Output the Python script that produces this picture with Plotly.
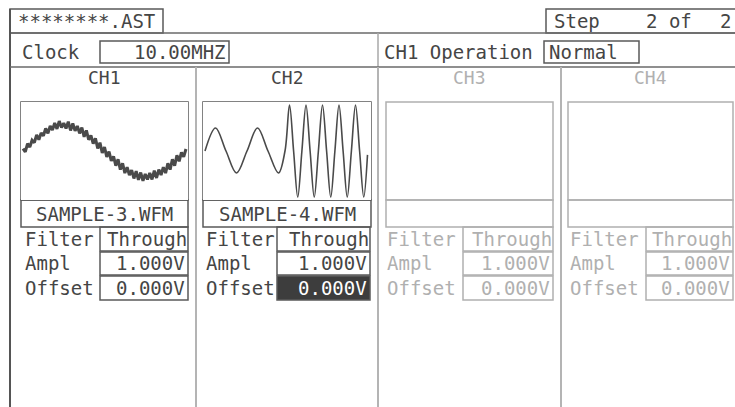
# waveform generator sequence screen, rebuilt with plotly shapes + two small wave plots
import plotly.graph_objects as go

W, H = 735, 407

# data
channels = ["CH1", "CH2", "CH3", "CH4"]
enabled = [True, True, False, False]
wave_names = ["SAMPLE-3.WFM", "SAMPLE-4.WFM", "", ""]
filter_vals = ["Through", "Through", "Through", "Through"]
ampl_vals = ["1.000V", "1.000V", "1.000V", "1.000V"]
offset_vals = ["0.000V", "0.000V", "0.000V", "0.000V"]

file_name = "********.AST"
clock_val = "10.00MHZ"
operation_val = "Normal"
step_now, step_total = 2, 2

# CH1: one noisy sine period (relative amplitude)
ch1_wave = [0.05, -0.02, 0.15, 0.08, 0.22, 0.17, 0.33, 0.23, 0.37, 0.31, 0.46, 0.36,
            0.51, 0.43, 0.57, 0.45, 0.61, 0.48, 0.57, 0.46, 0.60, 0.42, 0.56, 0.41,
            0.51, 0.36, 0.48, 0.29, 0.42, 0.23, 0.32, 0.15, 0.26, 0.05, 0.17, -0.04,
            0.08, -0.12, -0.01, -0.20, -0.11, -0.30, -0.17, -0.38, -0.25, -0.45, -0.33,
            -0.49, -0.39, -0.56, -0.41, -0.59, -0.44, -0.61, -0.47, -0.58, -0.45, -0.58,
            -0.40, -0.55, -0.38, -0.49, -0.33, -0.45, -0.25, -0.38, -0.17, -0.30, -0.09,
            -0.21, -0.03, -0.12, 0.04]

# CH2: two slow cycles then a fast burst (peaks / zero crossings / troughs)
ch2_t = [2, 12.5, 23, 33.5, 44, 54.5, 65, 75.5, 82, 86.5, 90.6, 94.75, 98.9, 103,
         107.1, 111.25, 115.4, 119.5, 123.6, 127.75, 131.9, 136, 140.1, 144.25,
         148.4, 152.5, 156.6, 160.75, 164.5]
ch2_v = [0, 0.47, 0, -0.45, 0, 0.47, 0, -0.45, 0, 0.94, 0, -0.94, 0, 0.94, 0, -0.94,
         0, 0.94, 0, -0.94, 0, 0.94, 0, -0.94, 0, 0.94, 0, -0.94, -0.08]

# screen geometry (pixels)
col_left = [10, 196, 378, 561]
wave_x0 = [21, 203, 386, 568]
wave_x1 = [188, 371, 553, 733]
text_x = [23, 204, 385, 568]
box_x0 = [100, 277, 463, 646]
box_x1 = [188, 370, 553, 733]

DARK = "#454545"
LINE = "#5a5a5a"
GREY = "#b0b0b0"
FONT = "DejaVu Sans Mono"

fig = go.Figure()

# wave plots on their own axes, placed inside the CH1 / CH2 boxes
def dom(x0, x1, y0, y1):
    return [x0 / W, x1 / W], [1 - y1 / H, 1 - y0 / H]

dx, dy = dom(wave_x0[0], wave_x1[0], 102, 200)
fig.add_trace(go.Scatter(x=list(range(len(ch1_wave))), y=ch1_wave, mode="lines",
                         line=dict(color="#4a4a4a", width=3), xaxis="x2", yaxis="y2",
                         hoverinfo="skip"))
fig.update_layout(xaxis2=dict(domain=dx, range=[-0.9, 72.9], visible=False, fixedrange=True),
                  yaxis2=dict(domain=dy, range=[-1, 1], visible=False, fixedrange=True))

dx, dy = dom(wave_x0[1], wave_x1[1], 102, 200)
fig.add_trace(go.Scatter(x=ch2_t, y=ch2_v, mode="lines",
                         line=dict(color="#4a4a4a", width=1.6, shape="spline"),
                         xaxis="x3", yaxis="y3", hoverinfo="skip"))
fig.update_layout(xaxis3=dict(domain=dx, range=[0, 168], visible=False, fixedrange=True),
                  yaxis3=dict(domain=dy, range=[-1, 1], visible=False, fixedrange=True))

shapes = []
def rect(x0, y0, x1, y1, color=LINE, width=1.5, fill=None):
    shapes.append(dict(type="rect", xref="x", yref="y", x0=x0, y0=y0, x1=x1, y1=y1,
                       line=dict(color=color, width=width),
                       fillcolor=fill if fill else "rgba(0,0,0,0)", layer="below"))

def line(x0, y0, x1, y1, color=LINE, width=1.5):
    shapes.append(dict(type="line", xref="x", yref="y", x0=x0, y0=y0, x1=x1, y1=y1,
                       line=dict(color=color, width=width)))

annots = []
def text(x, y, s, color=DARK, size=19, anchor="left"):
    annots.append(dict(x=x, y=y, xref="x", yref="y", text=s, showarrow=False,
                       xanchor=anchor, yanchor="middle",
                       font=dict(family=FONT, size=size, color=color)))

# header rows
rect(10, 9, 163, 33)
text(16, 21, file_name)
rect(546, 9, 737, 33)
text(552, 21, "Step")
text(694, 21, f"{step_now} of", anchor="right")
text(733, 21, str(step_total), anchor="right")
line(10, 33, 735, 33, color="#6a6a6a")
line(10, 9, 10, 407, color="#555555", width=2)

text(20, 52, "Clock")
rect(100, 41, 229, 63)
text(228, 52, clock_val, anchor="right")
line(378, 33, 378, 67, color="#a8a8a8", width=1.5)
text(382, 52, "CH1 Operation")
rect(544, 41, 639, 63)
text(547, 52, operation_val)
line(10, 67, 735, 67, color="#6a6a6a")

# column separators
for xl in col_left[1:]:
    line(xl, 67, xl, 407, color="#b4b4b4", width=2)

# channel columns
for i, ch in enumerate(channels):
    c = DARK if enabled[i] else GREY
    lc = LINE if enabled[i] else GREY
    cx = (wave_x0[i] + wave_x1[i]) / 2
    text(cx, 77, ch, color=c, size=18, anchor="center")
    rect(wave_x0[i], 102, wave_x1[i], 200, color=lc)
    rect(wave_x0[i], 200, wave_x1[i], 227, color=lc)
    if wave_names[i]:
        text(cx, 214, wave_names[i], color=c, anchor="center")

    text(text_x[i], 239, "Filter", color=c)
    rect(box_x0[i], 227, box_x1[i], 251, color=lc)
    text(box_x1[i] + 1, 239, filter_vals[i], color=c, anchor="right")

    text(text_x[i], 263, "Ampl", color=c)
    rect(box_x0[i], 252, box_x1[i], 275, color=lc)
    text(box_x1[i] - 1, 263, ampl_vals[i], color=c, anchor="right")

    text(text_x[i], 288, "Offset", color=c)
    sel = (i == 1)
    rect(box_x0[i], 276, box_x1[i], 300, color=lc, fill=("#3d3d3d" if sel else None))
    text(box_x1[i] - 1, 288, offset_vals[i], color=("white" if sel else c), anchor="right")

fig.update_layout(
    width=W, height=H,
    margin=dict(l=0, r=0, t=0, b=0),
    paper_bgcolor="white", plot_bgcolor="white",
    showlegend=False,
    xaxis=dict(range=[0, W], visible=False, fixedrange=True, domain=[0, 1]),
    yaxis=dict(range=[H, 0], visible=False, fixedrange=True, domain=[0, 1]),
    shapes=shapes,
    annotations=annots,
)

# page body has an 8px default margin; drop it so the screen sits at 0,0
fig.write_html("out.html", config={"displayModeBar": False},
               post_script="document.body.style.margin='0';")
